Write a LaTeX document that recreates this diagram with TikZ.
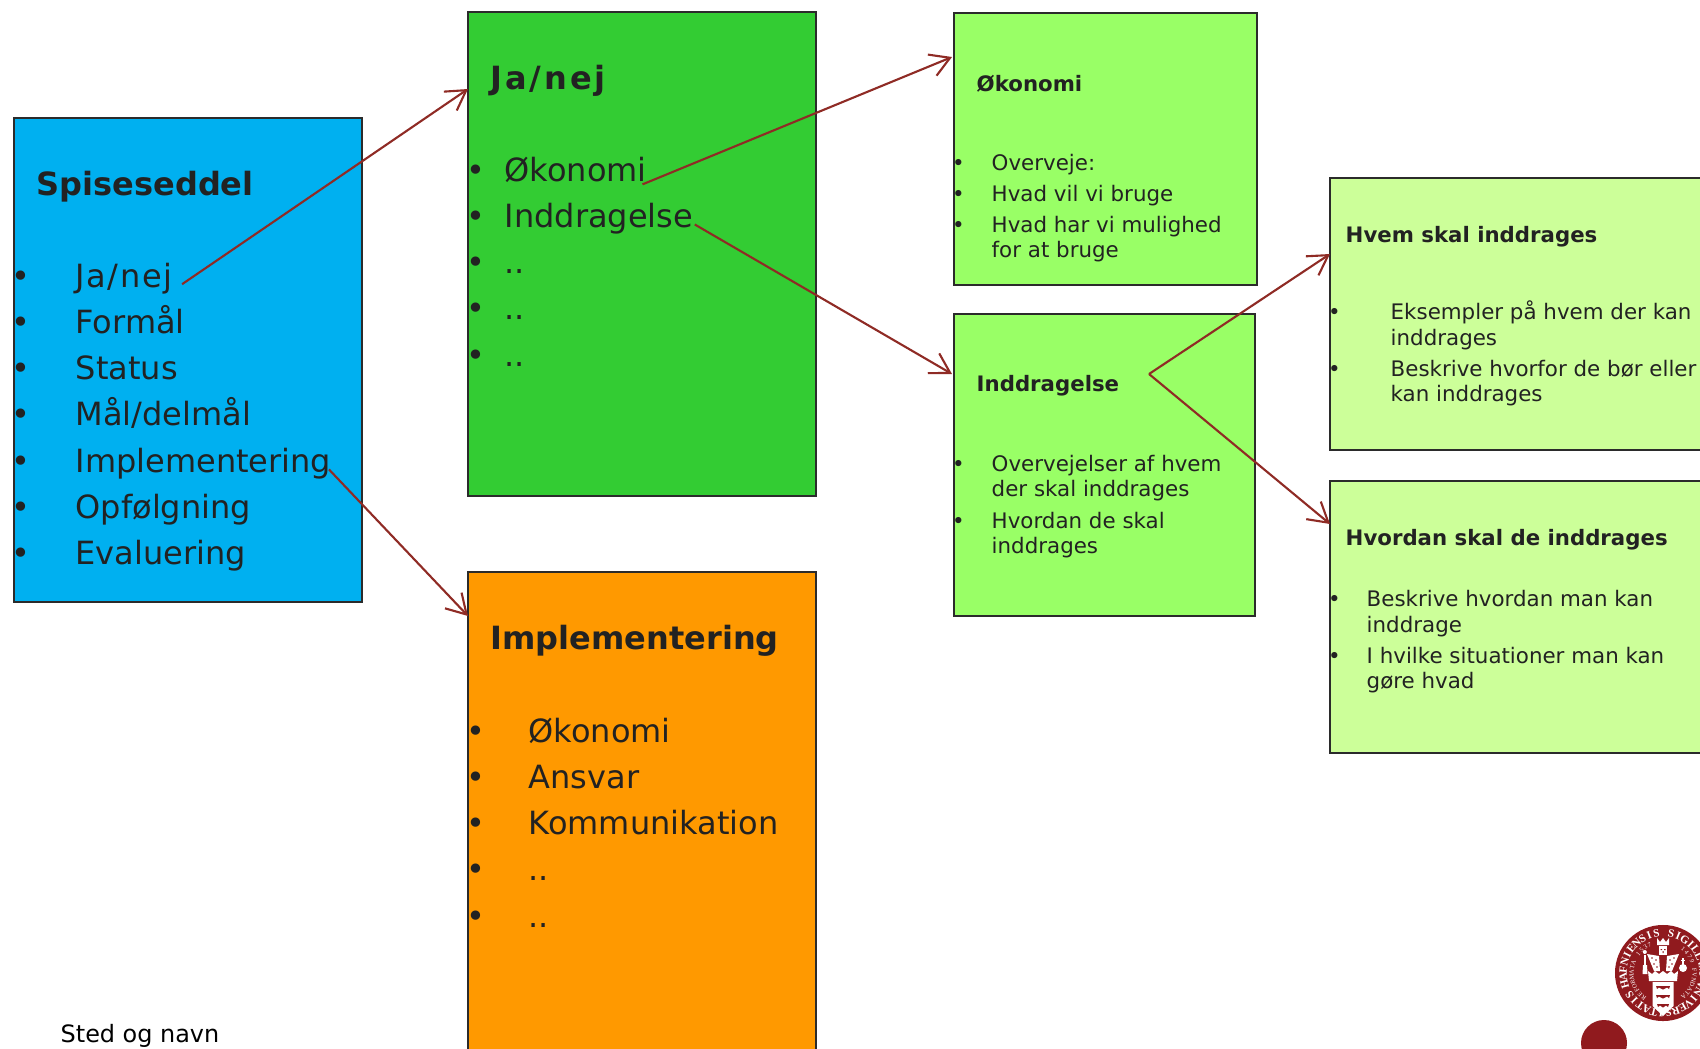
\documentclass[tikz,border=0pt]{standalone}
\usepackage{fontspec}
\setmainfont{DejaVu Sans}
\newfontfamily\sealfont{Liberation Serif}
\usepackage{xcolor}
\usepackage{tikz}
\usetikzlibrary{arrows.meta}

\definecolor{ink}{HTML}{222222}
\definecolor{edge}{HTML}{2B2B2B}
\definecolor{linkred}{HTML}{8F2B25}
\definecolor{sealred}{HTML}{901A1E}
\definecolor{spiseblue}{HTML}{00B0F0}
\definecolor{nejgreen}{HTML}{33CC33}
\definecolor{implorange}{HTML}{FF9900}
\definecolor{subgreen}{HTML}{99FF66}
\definecolor{palegreen}{HTML}{CCFF99}

\tikzset{
    card/.style={draw=edge, line width=0.6pt, anchor=north west, inner sep=0pt, outer sep=0pt},
    bigtitle/.style={anchor=base west, inner sep=0pt, text=ink, font=\fontsize{9.1}{11}\selectfont\bfseries},
    bigitem/.style={anchor=base west, inner sep=0pt, text=ink, font=\fontsize{9.1}{11}\selectfont},
    smalltitle/.style={anchor=base west, inner sep=0pt, text=ink, font=\fontsize{6.05}{8}\selectfont\bfseries},
    smallitem/.style={anchor=base west, inner sep=0pt, text=ink, font=\fontsize{6.08}{8}\selectfont},
    link/.style={draw=linkred, line width=0.6pt, -{Straight Barb[length=5.5pt,width=6.5pt]}},
    sealbig/.style={inner sep=0pt, text=white, font=\sealfont\bfseries\fontsize{3.2}{3}\selectfont},
    sealsmall/.style={inner sep=0pt, text=white, font=\sealfont\fontsize{1.8}{2}\selectfont},
}

\begin{document}
\begin{tikzpicture}[x=0.01cm,y=-0.01cm]
    \useasboundingbox (0,0) rectangle (1700,1048);
    \clip (0,0) rectangle (1700,1048);

    % Boxes
    \node[card, fill=spiseblue, minimum width=3.48cm, minimum height=4.84cm] (spisebox) at (14,118) {};
    \node[card, fill=nejgreen, minimum width=3.48cm, minimum height=4.84cm] (nejbox) at (468,12) {};
    \node[card, fill=implorange, minimum width=3.48cm, minimum height=5.2cm] (implbox) at (468,572) {};
    \node[card, fill=subgreen, minimum width=3.03cm, minimum height=2.72cm] (okobox) at (954,13) {};
    \node[card, fill=subgreen, minimum width=3.01cm, minimum height=3.02cm] (indbox) at (954,314) {};
    \node[card, fill=palegreen, minimum width=4cm, minimum height=2.72cm] (hvembox) at (1330,178) {};
    \node[card, fill=palegreen, minimum width=4cm, minimum height=2.72cm] (hvordanbox) at (1330,481) {};

    % Spiseseddel
    \node[bigtitle] (spisetitle) at (36,195) {Spiseseddel};
    \foreach \txt [count=\i] in {{\addfontfeature{LetterSpace=5}Ja/nej},Formål,Status,{Mål/delmål},Implementering,Opfølgning,Evaluering} {
        \pgfmathsetmacro{\yy}{287+46.3*(\i-1)}
        \node[bigitem] (spisedot\i) at (11,\yy) {•};
        \node[bigitem] (spise\i) at (75,\yy) {\txt};
    }

    % Ja/nej
    \node[bigtitle] (nejtitle) at (490,89) {\addfontfeature{LetterSpace=9}Ja/nej};
    \foreach \txt [count=\i] in {Økonomi,Inddragelse,..,..,..} {
        \pgfmathsetmacro{\yy}{181+46.3*(\i-1)}
        \node[bigitem] (nejdot\i) at (465.5,\yy) {•};
        \node[bigitem] (nej\i) at (504,\yy) {\txt};
    }

    % Implementering
    \node[bigtitle] (impltitle) at (490,649) {Implementering};
    \foreach \txt [count=\i] in {Økonomi,Ansvar,Kommunikation,..,..} {
        \pgfmathsetmacro{\yy}{742+46.3*(\i-1)}
        \node[bigitem] (impldot\i) at (465.5,\yy) {•};
        \node[bigitem] (impl\i) at (528,\yy) {\txt};
    }

    % Okonomi
    \node[smalltitle] (okotitle) at (976,91) {Økonomi};
    \foreach \yy/\txt [count=\i] in {170/Overveje:,201/Hvad vil vi bruge,232/Hvad har vi mulighed,257/for at bruge} {
        \node[smallitem] (oko\i) at (991,\yy) {\txt};
    }
    \foreach \yy [count=\i] in {170,201,232} {
        \node[smallitem] (okodot\i) at (951.5,\yy) {•};
    }

    % Inddragelse
    \node[smalltitle] (indtitle) at (976,391) {Inddragelse};
    \foreach \yy/\txt [count=\i] in {471/Overvejelser af hvem,496/der skal inddrages,528/Hvordan de skal,553/inddrages} {
        \node[smallitem] (ind\i) at (991,\yy) {\txt};
    }
    \foreach \yy [count=\i] in {471,528} {
        \node[smallitem] (inddot\i) at (951.5,\yy) {•};
    }

    % Hvem skal inddrages
    \node[smalltitle] (hvemtitle) at (1345,242) {Hvem skal inddrages};
    \foreach \yy/\txt [count=\i] in {319/Eksempler på hvem der kan,345/inddrages,376/Beskrive hvorfor de bør eller,401/kan inddrages} {
        \node[smallitem] (hvem\i) at (1390,\yy) {\txt};
    }
    \foreach \yy [count=\i] in {319,376} {
        \node[smallitem] (hvemdot\i) at (1327.5,\yy) {•};
    }

    % Hvordan skal de inddrages
    \node[smalltitle] (hvordantitle) at (1345,545) {Hvordan skal de inddrages};
    \foreach \yy/\txt [count=\i] in {606/Beskrive hvordan man kan,632/inddrage,663/I hvilke situationer man kan,688/gøre hvad} {
        \node[smallitem] (hvordan\i) at (1366,\yy) {\txt};
    }
    \foreach \yy [count=\i] in {606,663} {
        \node[smallitem] (hvordandot\i) at (1327.5,\yy) {•};
    }

    % Arrows
    \coordinate (fork) at (1149,374);
    \coordinate (nejin) at (468,89);
    \coordinate (implin) at (468,616);
    \coordinate (okoin) at (952,57);
    \coordinate (indin) at (952,374);
    \coordinate (hvemin) at (1330,254);
    \coordinate (hvordanin) at (1330,524);
    \draw[link] ([shift={(9,6)}]spise1.east) -- (nejin);
    \draw[link] ([shift={(-3,6)}]spise5.east) -- (implin);
    \draw[link] ([shift={(-5,15)}]nej1.east) -- (okoin);
    \draw[link] ([shift={(1,6)}]nej2.east) -- (indin);
    \draw[link] (fork) -- (hvemin);
    \draw[link] (fork) -- (hvordanin);

    % Footer
    \node[anchor=base west, inner sep=0pt, text=black, font=\fontsize{6.8}{8}\selectfont] (footer) at (60,1042) {Sted og navn};
    \node[circle, fill=sealred, inner sep=0pt, minimum size=0.46cm] (dot) at (1604,1043) {};

    % Seal
    \node[circle, fill=sealred, inner sep=0pt, minimum size=0.96cm] (seal) at (1663,973) {};
    \begin{scope}[shift={(1663,973)},y=0.01cm]
        \foreach \ch [count=\k] in {H,A,F,N,I,E,N,S,I,S,{},S,I,G,I,L,L,V,M,{},V,N,I,V,E,R,S,I,T,A,T,I,S} {
            \pgfmathsetmacro{\ang}{196-(\k-1)*10.7}
            \node[sealbig, rotate=\ang-90] (sealb\k) at (\ang:40) {\ch};
        }
        \foreach \ch [count=\k] in {R,E,F,O,R,M,A,T,A,{},1,5,3,7} {
            \pgfmathsetmacro{\ang}{232-(\k-1)*9}
            \node[sealsmall, rotate=\ang-90] (seals\k) at (\ang:31.5) {\ch};
        }
        \foreach \ch [count=\k] in {1,4,7,9,{},F,V,N,D,A,T,A} {
            \pgfmathsetmacro{\ang}{50-(\k-1)*9}
            \node[sealsmall, rotate=\ang-90] (sealr\k) at (\ang:31.5) {\ch};
        }
        % king
        \fill[white] (-6,35) -- (-6,28) -- (6,28) -- (6,35) -- (3,31) -- (0,35) -- (-3,31) -- cycle;
        \fill[white] (-4,27) rectangle (4,18);
        \fill[sealred] (-2.5,24) rectangle (-1,23) (1,24) rectangle (2.5,23) (-0.5,22) rectangle (0.5,20);
        \fill[white] (-16,19) -- (-4,17) -- (-3,2) -- (-9,2) -- cycle;
        \fill[white] (16,19) -- (4,17) -- (3,2) -- (9,2) -- cycle;
        \foreach \dx/\dy in {-11/15,-7/13,-9/9,-6/6,11/15,7/13,9/9,6/6} {
            \fill[sealred] (\dx,\dy) circle (0.8);
        }
        % sceptre and orb
        \fill[white] (-19,18) rectangle (-17.5,8);
        \fill[white] (-18.2,21) circle (2);
        \fill[white] (-20,8) -- (-16,8) -- (-15.5,-1) -- (-20.5,-1) -- cycle;
        \fill[white] (20,5) circle (4);
        \fill[white] (19.4,8) rectangle (20.6,15);
        \fill[white] (18,12.5) rectangle (22,13.5);
        % shield
        \fill[white] (-15,2) -- (-14,-8) -- (14,-8) -- (15,2) -- (11,-1) -- (8,2) -- (4,-1) -- (0,2) -- (-4,-1) -- (-8,2) -- (-11,-1) -- cycle;
        \fill[white] (-10.5,-9) -- (10.5,-9) -- (10.5,-33) -- (0,-43) -- (-10.5,-33) -- cycle;
        \foreach \sy/\sw in {-13/7,-22/7,-31/6} {
            \fill[sealred] (-\sw,\sy) -- (\sw,\sy) -- (\sw-1,\sy-3) -- (\sw-3,\sy-1.5) -- (0,\sy-3.5) -- (3-\sw,\sy-1.5) -- (1-\sw,\sy-3) -- cycle;
        }
    \end{scope}
\end{tikzpicture}
\end{document}
